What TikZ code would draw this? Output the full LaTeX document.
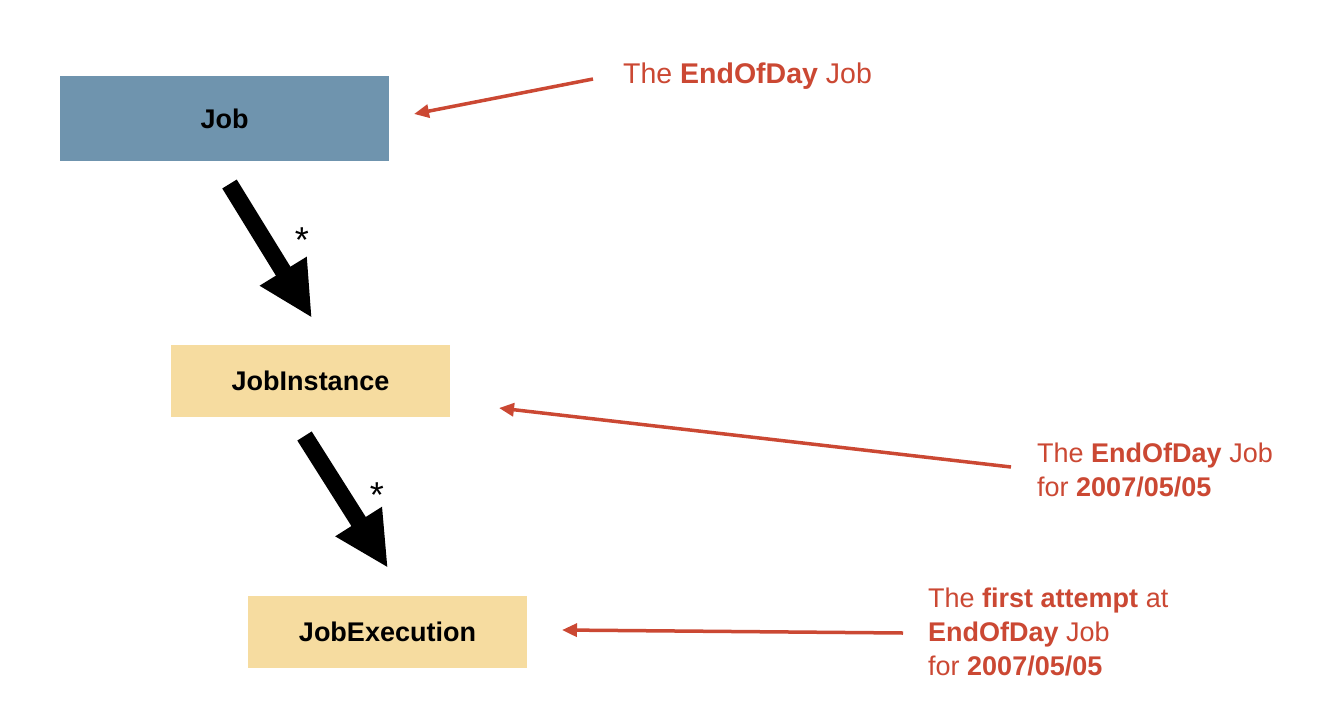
\documentclass[tikz,border=0pt]{standalone}
\usepackage{fontspec}
\setmainfont{Liberation Sans}
\usetikzlibrary{arrows.meta}
\definecolor{jobblue}{RGB}{111,148,174}
\definecolor{tan}{RGB}{246,220,160}
\definecolor{note}{RGB}{203,72,51}
\tikzset{
  box/.style={draw=none, inner sep=0pt, font=\fontsize{27}{32}\selectfont\bfseries, text=black},
  notetext/.style={inner sep=0pt, anchor=base west, align=left, text=note, font=\fontsize{27}{34}\selectfont},
  bigarrow/.style={line width=17pt, -{Triangle[length=55pt,width=51pt]}},
  redarrow/.style={draw=note, line width=3.5pt, -{Triangle[length=15pt,width=13pt]}},
  star/.style={inner sep=0pt, font=\fontsize{36}{36}\selectfont}
}
\begin{document}
\begin{tikzpicture}[x=1pt,y=-1pt]
\useasboundingbox[fill=white] (0,0) rectangle (1334,702);
\node[box, fill=jobblue, minimum width=329pt, minimum height=85pt] (job) at (224.5,118.5) {Job};
\node[box, fill=tan, minimum width=279pt, minimum height=72pt] (inst) at (310.5,381) {JobInstance};
\node[box, fill=tan, minimum width=279pt, minimum height=72pt] (exec) at (387.5,632) {JobExecution};

\coordinate (a1s) at (229.5,184);
\coordinate (a1e) at (312,318);
\coordinate (a2s) at (304.5,436);
\coordinate (a2e) at (388,568);
\draw[bigarrow] (a1s) -- (a1e);
\draw[bigarrow] (a2s) -- (a2e);
\node[star] (s1) at (302,240) {*};
\node[star] (s2) at (377,495) {*};

\node[notetext, font=\fontsize{28.5}{34}\selectfont] (n1) at (623,83) {The \textbf{EndOfDay} Job};
\node[notetext] (n2) at (1037,496) {The \textbf{EndOfDay} Job\\for \textbf{2007/05/05}};
\node[notetext] (n3) at (928,675) {The \textbf{first attempt} at\\\textbf{EndOfDay} Job\\for \textbf{2007/05/05}};

\coordinate (r1s) at (593,79);
\coordinate (r1e) at (414,114);
\coordinate (r2s) at (1011,467);
\coordinate (r2e) at (499,408);
\coordinate (r3s) at (903,633);
\coordinate (r3e) at (562,630);
\draw[redarrow] (r1s) -- (r1e);
\draw[redarrow] (r2s) -- (r2e);
\draw[redarrow] (r3s) -- (r3e);
\end{tikzpicture}
\end{document}
